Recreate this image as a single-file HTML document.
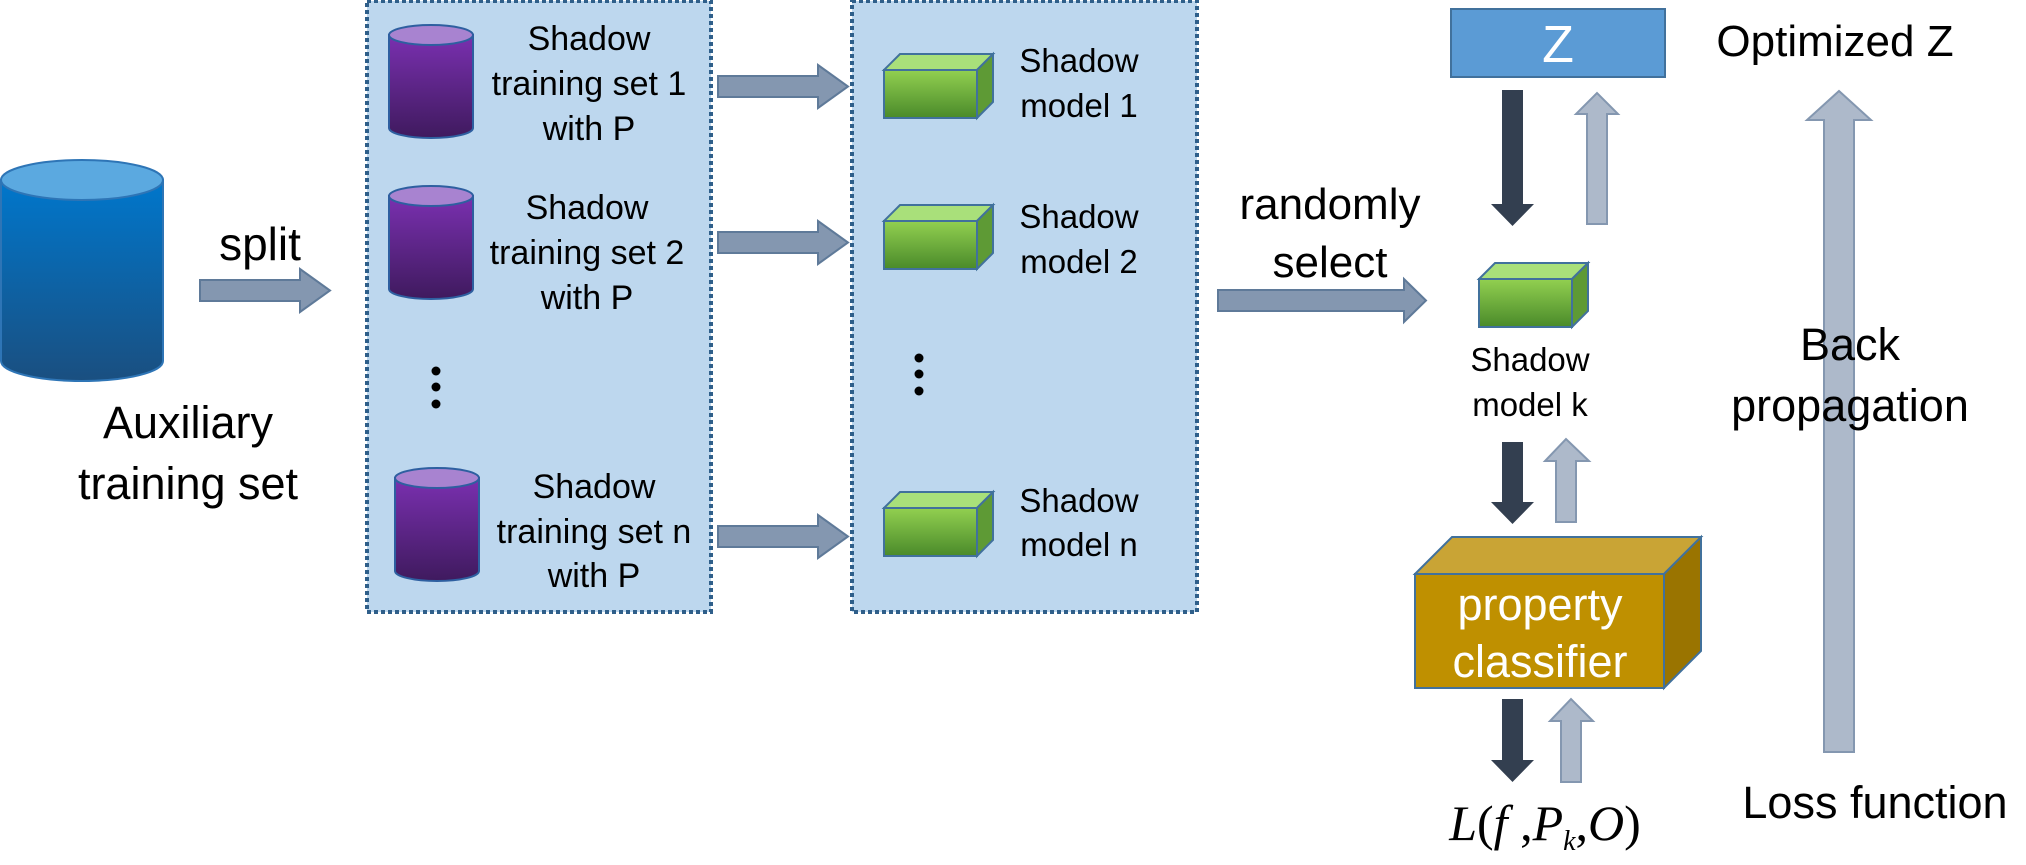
<!DOCTYPE html>
<html><head><meta charset="utf-8"><style>
html,body{margin:0;padding:0;background:#fff;}
svg{display:block;}
text{font-family:"Liberation Sans",sans-serif;fill:#000;}
</style></head><body>
<svg width="2026" height="865" viewBox="0 0 2026 865" xmlns="http://www.w3.org/2000/svg">
<defs>
<linearGradient id="gb" x1="0" y1="0" x2="0" y2="1"><stop offset="0" stop-color="#0077cc"/><stop offset="1" stop-color="#1a4f80"/></linearGradient>
<linearGradient id="gp" x1="0" y1="0" x2="0" y2="1"><stop offset="0" stop-color="#7a30b0"/><stop offset="1" stop-color="#3f1a5e"/></linearGradient>
<linearGradient id="gg" x1="0" y1="0" x2="0" y2="1"><stop offset="0" stop-color="#92d050"/><stop offset="1" stop-color="#4a8a2a"/></linearGradient>
<g id="cube">
<polygon points="0,16 16,0 109,0 93,16" fill="#a9e07a" stroke="#41719c" stroke-width="2"/>
<polygon points="93,16 109,0 109,48 93,64" fill="#5e9a35" stroke="#41719c" stroke-width="2"/>
<rect x="0" y="16" width="93" height="48" fill="url(#gg)" stroke="#41719c" stroke-width="2"/>
</g>
<g id="pcyl">
<path d="M0,10 L0,103 A42,10 0 0 0 84,103 L84,10 Z" fill="url(#gp)" stroke="#2e5fa0" stroke-width="2"/>
<ellipse cx="42" cy="10" rx="42" ry="10" fill="#a883d0" stroke="#2e5fa0" stroke-width="2"/>
</g>
<g id="rarrow"><polygon points="0,11 100,11 100,0 130,21.5 100,43 100,32 0,32" fill="#8497b0" stroke="#5f7a99" stroke-width="2"/></g>
</defs>

<path d="M1,180 L1,361 A81,20 0 0 0 163,361 L163,180 Z" fill="url(#gb)" stroke="#2e75b6" stroke-width="2"/>
<ellipse cx="82" cy="180" rx="81" ry="20" fill="#5ba9e0" stroke="#2e75b6" stroke-width="2"/>
<text x="188" y="438" font-size="45" text-anchor="middle">Auxiliary</text>
<text x="188" y="499" font-size="45" text-anchor="middle">training set</text>

<text x="260" y="260" font-size="46" text-anchor="middle">split</text>
<g transform="translate(200,269)"><use href="#rarrow"/></g>

<rect x="367" y="1" width="344" height="611" fill="#bdd7ee" stroke="#2f5f8a" stroke-width="4" stroke-dasharray="4,3"/>
<g transform="translate(389,25)"><use href="#pcyl"/></g>
<g transform="translate(389,186)"><use href="#pcyl"/></g>
<g transform="translate(395,468)"><use href="#pcyl"/></g>
<g font-size="34" text-anchor="middle">
<text x="589" y="50">Shadow</text><text x="589" y="95">training set 1</text><text x="589" y="140">with P</text>
<text x="587" y="219">Shadow</text><text x="587" y="264">training set 2</text><text x="587" y="309">with P</text>
<text x="594" y="498">Shadow</text><text x="594" y="543">training set n</text><text x="594" y="587">with P</text>
</g>
<circle cx="436" cy="371" r="4.5"/><circle cx="436" cy="387" r="4.5"/><circle cx="436" cy="404" r="4.5"/>

<g transform="translate(718,65)"><use href="#rarrow"/></g>
<g transform="translate(718,221)"><use href="#rarrow"/></g>
<g transform="translate(718,515)"><use href="#rarrow"/></g>

<rect x="852" y="1" width="345" height="611" fill="#bdd7ee" stroke="#2f5f8a" stroke-width="4" stroke-dasharray="4,3"/>
<g transform="translate(884,54)"><use href="#cube"/></g>
<g transform="translate(884,205)"><use href="#cube"/></g>
<g transform="translate(884,492)"><use href="#cube"/></g>
<circle cx="919" cy="358" r="4.5"/><circle cx="919" cy="374" r="4.5"/><circle cx="919" cy="391" r="4.5"/>
<g font-size="33" text-anchor="middle">
<text x="1079" y="72">Shadow</text><text x="1079" y="117">model 1</text>
<text x="1079" y="228">Shadow</text><text x="1079" y="273">model 2</text>
<text x="1079" y="512">Shadow</text><text x="1079" y="556">model n</text>
</g>

<text x="1330" y="219" font-size="44" text-anchor="middle">randomly</text>
<text x="1330" y="277" font-size="44" text-anchor="middle">select</text>
<polygon points="1218,290 1404,290 1404,279 1426,300.5 1404,322 1404,311 1218,311" fill="#8497b0" stroke="#5f7a99" stroke-width="2"/>

<rect x="1451" y="9" width="214" height="68" fill="#5b9bd5" stroke="#41719c" stroke-width="2"/>
<text x="1558" y="62" font-size="52" text-anchor="middle" style="fill:#fff">Z</text>
<text x="1835" y="56" font-size="44" text-anchor="middle">Optimized Z</text>

<polygon points="1502,90 1523,90 1523,204 1534,204 1512.5,226 1491,204 1502,204" fill="#333f50"/>
<polygon points="1587,224 1607,224 1607,114 1618,114 1597,93 1576,114 1587,114" fill="#adb9ca" stroke="#8497b0" stroke-width="2"/>

<g transform="translate(1479,263)"><use href="#cube"/></g>
<text x="1530" y="371" font-size="33" text-anchor="middle">Shadow</text>
<text x="1530" y="416" font-size="33" text-anchor="middle">model k</text>

<polygon points="1502,442 1523,442 1523,502 1534,502 1512.5,524 1491,502 1502,502" fill="#333f50"/>
<polygon points="1556,522 1576,522 1576,461 1589,461 1566,439 1545,461 1556,461" fill="#adb9ca" stroke="#8497b0" stroke-width="2"/>

<polygon points="1415,574 1452,537 1701,537 1664,574" fill="#c9a435" stroke="#41719c" stroke-width="2"/>
<polygon points="1664,574 1701,537 1701,651 1664,688" fill="#9a7400" stroke="#41719c" stroke-width="2"/>
<rect x="1415" y="574" width="249" height="114" fill="#bf9000" stroke="#41719c" stroke-width="2"/>
<text x="1540" y="620" font-size="45" text-anchor="middle" style="fill:#fff">property</text>
<text x="1540" y="677" font-size="45" text-anchor="middle" style="fill:#fff">classifier</text>

<polygon points="1502,699 1523,699 1523,760 1534,760 1512.5,782 1491,760 1502,760" fill="#333f50"/>
<polygon points="1561,782 1581,782 1581,721 1593,721 1571,699 1550,721 1561,721" fill="#adb9ca" stroke="#8497b0" stroke-width="2"/>

<text x="1545" y="840" font-size="50" text-anchor="middle" style="font-family:'Liberation Serif',serif;font-style:italic">L<tspan style="font-style:normal">(</tspan>f<tspan style="font-style:normal"> ,</tspan>P<tspan font-size="28" dy="10">k</tspan><tspan dy="-10" style="font-style:normal">,</tspan>O<tspan style="font-style:normal">)</tspan></text>

<polygon points="1824,752 1854,752 1854,120 1871,120 1839,91 1807,120 1824,120" fill="#adb9ca" stroke="#8497b0" stroke-width="2"/>
<text x="1850" y="360" font-size="45" text-anchor="middle">Back</text>
<text x="1850" y="421" font-size="45" text-anchor="middle">propagation</text>
<text x="1875" y="818" font-size="45" text-anchor="middle">Loss function</text>
</svg>
</body></html>
